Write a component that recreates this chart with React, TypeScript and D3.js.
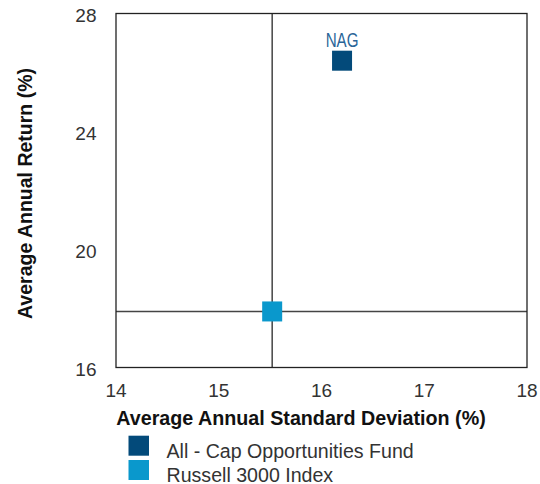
import React from "react";
import * as d3 from "d3";

const seriesNames = ["All - Cap Opportunities Fund", "Russell 3000 Index"];
const seriesColors = ["#034a7a", "#0a98cc"];
const stdDev = [16.2, 15.52];
const annualReturn = [26.4, 17.9];
const pointLabels = ["NAG", ""];
const xTicks = [14, 15, 16, 17, 18];
const yTicks = [16, 20, 24, 28];

const W = 540;
const H = 484;
const M = { left: 116, right: 527, top: 13.5, bottom: 367.5 };
const FONT = "'Liberation Sans', Arial, sans-serif";

export default function App() {
  const x = d3.scaleLinear().domain([14, 18]).range([M.left, M.right]);
  const y = d3.scaleLinear().domain([16, 28]).range([M.bottom, M.top]);
  const ref = 1; // benchmark index drives the crosshair
  const sz = 20;

  return (
    <svg
      width={W}
      height={H}
      style={{ position: "absolute", left: 0, top: 0, background: "#fff" }}
      fontFamily={FONT}
    >
      {/* crosshair through benchmark */}
      <line x1={x(stdDev[ref])} x2={x(stdDev[ref])} y1={M.top} y2={M.bottom} stroke="#444" strokeWidth={1.5} />
      <line x1={M.left} x2={M.right} y1={y(annualReturn[ref])} y2={y(annualReturn[ref])} stroke="#444" strokeWidth={1.5} />
      {/* frame */}
      <rect x={M.left} y={M.top} width={M.right - M.left} height={M.bottom - M.top} fill="none" stroke="#222" strokeWidth={1.3} />

      {xTicks.map((t) => (
        <text key={"x" + t} x={x(t)} y={M.bottom + 29} textAnchor="middle" fontSize={19} fill="#333">
          {t}
        </text>
      ))}
      {yTicks.map((t) => (
        <text key={"y" + t} x={M.left - 19.5} y={y(t) + 8} textAnchor="end" fontSize={19} fill="#333">
          {t}
        </text>
      ))}

      {stdDev.map((s, i) => (
        <g key={"p" + i}>
          <rect x={x(s) - sz / 2} y={y(annualReturn[i]) - sz / 2} width={sz} height={sz} fill={seriesColors[i]} />
          {pointLabels[i] && (
            <text
              transform={`translate(${x(s)}, ${y(annualReturn[i]) - sz / 2 - 4}) scale(0.74, 1)`}
              textAnchor="middle"
              fontSize={20.5}
              fill="#2a6598"
            >
              {pointLabels[i]}
            </text>
          )}
        </g>
      ))}

      <text x={301} y={425} textAnchor="middle" fontSize={19.7} fontWeight="bold" fill="#111">
        Average Annual Standard Deviation (%)
      </text>
      <text
        transform={`translate(32, 193.5) rotate(-90)`}
        textAnchor="middle"
        fontSize={19.5}
        fontWeight="bold"
        fill="#111"
      >
        Average Annual Return (%)
      </text>

      {seriesNames.map((n, i) => (
        <g key={"l" + i}>
          <rect x={128.5} y={435.7 + i * 24.3} width={20.5} height={20} fill={seriesColors[i]} />
          <text x={166.5} y={457.5 + i * 24} fontSize={19.6} fill="#333">
            {n}
          </text>
        </g>
      ))}
    </svg>
  );
}
